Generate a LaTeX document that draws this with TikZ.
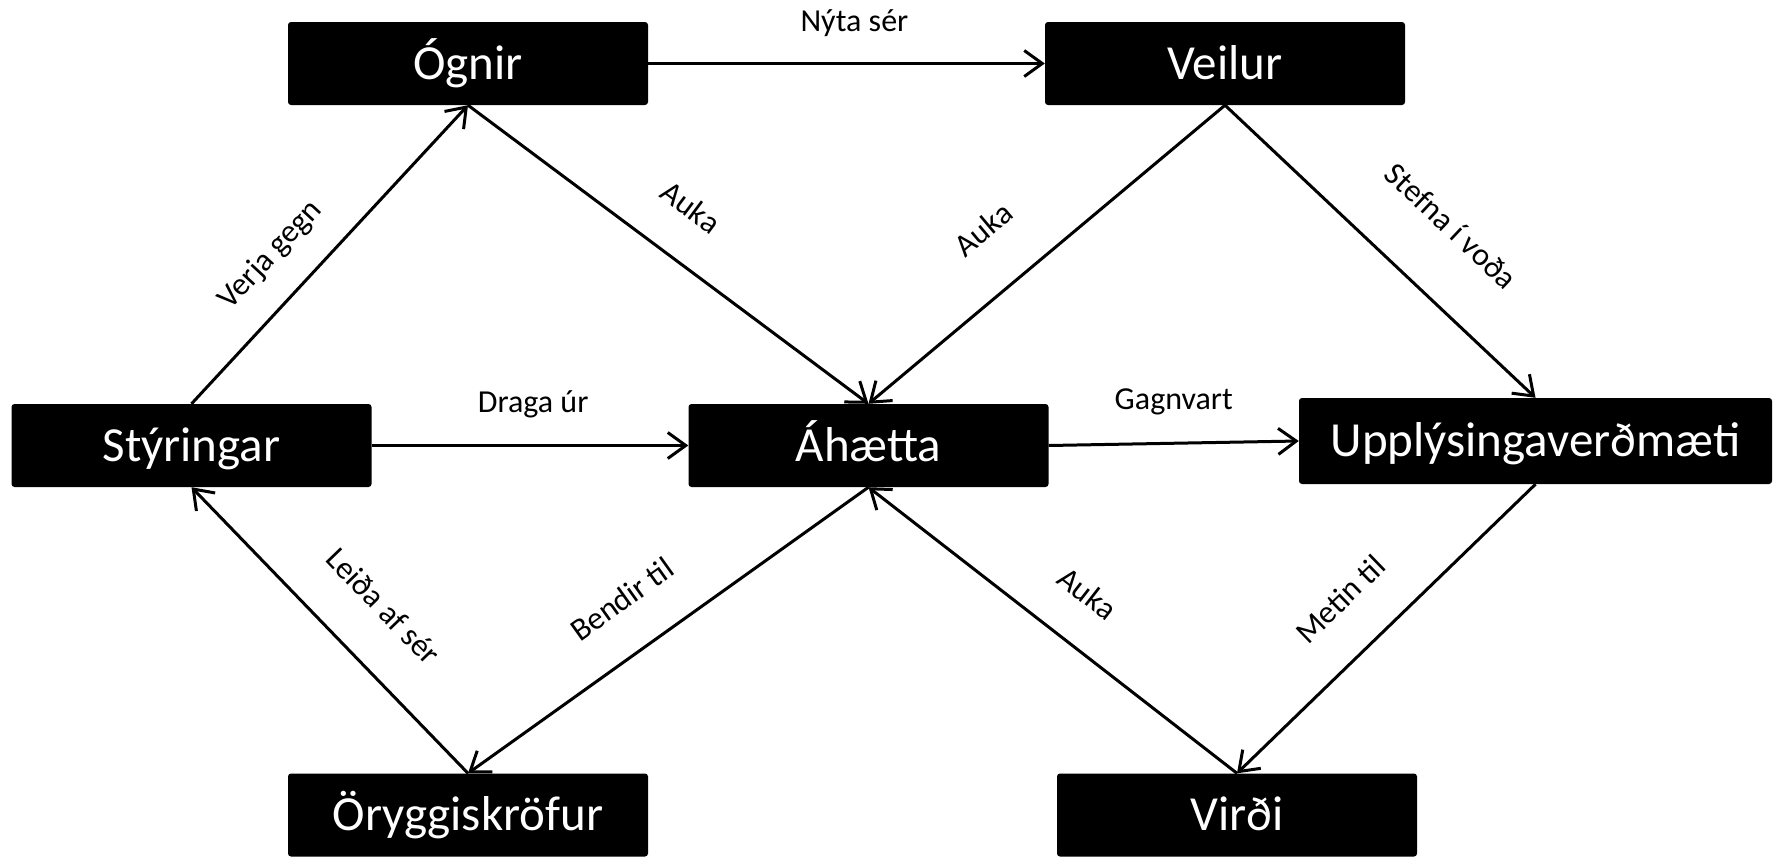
\documentclass[tikz,border=0pt]{standalone}
\usepackage{fontspec}
\setmainfont{Carlito}
\usetikzlibrary{arrows.meta}
\tikzset{
  box/.style={fill=black, text=white, rounded corners=3pt, minimum width=360pt, minimum height=83pt,
    inner sep=0pt, font=\fontsize{49}{55}\selectfont, text height=31pt, text depth=0pt},
  conn/.style={line width=3pt, -{Straight Barb[length=18pt,width=26pt,line width=3pt]}},
  lbl/.style={font=\fontsize{32}{37}\selectfont, inner sep=0pt, text height=20pt, text depth=0pt},
}
\begin{document}
\begin{tikzpicture}[x=1pt,y=-1pt]
\useasboundingbox (0,0) rectangle (1775,857);
\node[box] (ogn) at (468,63.5) {Ógnir};
\node[box] (veil) at (1225,63.5) {Veilur};
\node[box] (sty) at (191.5,445.5) {Stýringar};
\node[box] (aha) at (868.5,445.5) {Áhætta};
\node[box, minimum width=473pt, minimum height=86pt] (upp) at (1535.5,441) {Upplýsingaverðmæti};
\node[box] (ory) at (468,815) {Öryggiskröfur};
\node[box] (vir) at (1237,815) {Virði};

\draw[conn] (ogn.east) -- node[lbl, pos=0.52, above=31pt] {Nýta sér} (veil.west);
\draw[conn] (sty.north) -- node[lbl, sloped, pos=0.40, above=33pt] {Verja gegn} (ogn.south);
\draw[conn] (ogn.south) -- node[lbl, sloped, pos=0.48, above=39pt] {Auka} (aha.north);
\draw[conn] (veil.south) -- node[lbl, sloped, pos=0.57, above=48pt] {Auka} (aha.north);
\draw[conn] (veil.south) -- node[lbl, sloped, pos=0.58, above=55pt] {Stefna í voða} (upp.north);
\draw[conn] (sty.east) -- node[lbl, pos=0.51, above=32pt] {Draga úr} (aha.west);
\draw[conn] (aha.east) -- node[lbl, pos=0.5, above=32pt] {Gagnvart} (upp.west);
\draw[conn] (ory.north) -- node[lbl, sloped, pos=0.45, above=43pt] {Leiða af sér} (sty.south);
\draw[conn] (aha.south) -- node[lbl, sloped, pos=0.54, above=40pt] {Bendir til} (ory.north);
\draw[conn] (vir.north) -- node[lbl, sloped, pos=0.49, above=38pt] {Auka} (aha.south);
\draw[conn] (upp.south) -- node[lbl, sloped, pos=0.53, above=41pt] {Metin til} (vir.north);
\end{tikzpicture}
\end{document}
